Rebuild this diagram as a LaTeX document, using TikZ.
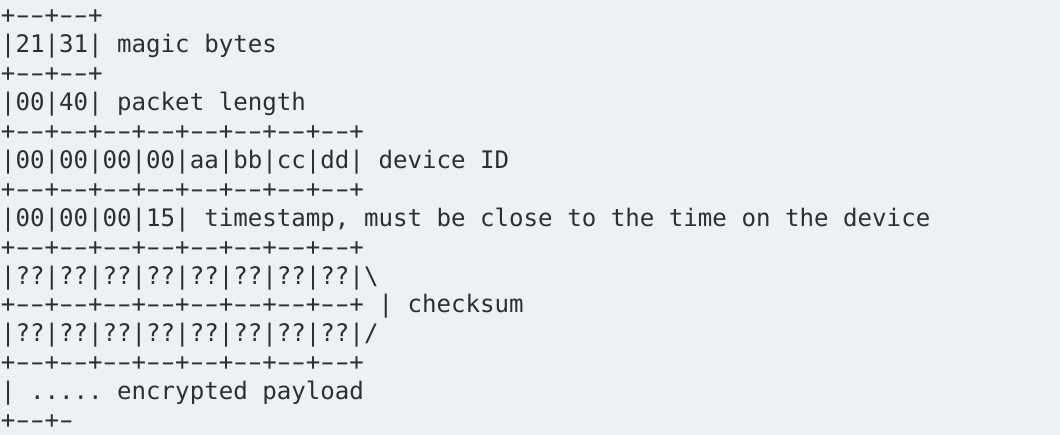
\documentclass[tikz,border=0pt]{standalone}
\usepackage{fontspec}
\setmonofont{DejaVu Sans Mono}
\usepackage{xcolor}
\usepackage{graphicx}
\usetikzlibrary{positioning}
\definecolor{pagebg}{HTML}{EFF0F3}
\definecolor{ink}{HTML}{2F2F2F}
\newcommand{\asciifont}{\fontsize{24.12pt}{28.93pt}\selectfont\ttfamily}
\newcommand{\bsl}{\textbackslash}
% wide hyphen, as in the rendered code block
\newcommand{\hy}{\makebox[0.602em][c]{\scalebox{1.65}[1]{-}}}
\newcommand{\cellrule}{\hy\hy+}

\begin{document}
\begin{tikzpicture}[x=1pt,y=1pt,
  asciirow/.style={anchor=north west,inner sep=0pt,outer sep=0pt,text height=23.2pt,text depth=5.73pt,
                   font=\asciifont,text=ink}]
  \fill[pagebg] (0,0) rectangle (1060,-435);
  \useasboundingbox (0,0) rectangle (1060,-435);
  \node[asciirow] (r1) at (1,-0.5) {+\cellrule\cellrule};
  \node[below=0pt of r1.south west,asciirow] (r2) {|21|31| magic bytes};
  \node[below=0pt of r2.south west,asciirow] (r3) {+\cellrule\cellrule};
  \node[below=0pt of r3.south west,asciirow] (r4) {|00|40| packet length};
  \node[below=0pt of r4.south west,asciirow] (r5) {+\cellrule\cellrule\cellrule\cellrule\cellrule\cellrule\cellrule\cellrule};
  \node[below=0pt of r5.south west,asciirow] (r6) {|00|00|00|00|aa|bb|cc|dd| device ID};
  \node[below=0pt of r6.south west,asciirow] (r7) {+\cellrule\cellrule\cellrule\cellrule\cellrule\cellrule\cellrule\cellrule};
  \node[below=0pt of r7.south west,asciirow] (r8) {|00|00|00|15| timestamp, must be close to the time on the device};
  \node[below=0pt of r8.south west,asciirow] (r9) {+\cellrule\cellrule\cellrule\cellrule\cellrule\cellrule\cellrule\cellrule};
  \node[below=0pt of r9.south west,asciirow] (r10) {|??|??|??|??|??|??|??|??|\bsl};
  \node[below=0pt of r10.south west,asciirow] (r11) {+\cellrule\cellrule\cellrule\cellrule\cellrule\cellrule\cellrule\cellrule{} | checksum};
  \node[below=0pt of r11.south west,asciirow] (r12) {|??|??|??|??|??|??|??|??|/};
  \node[below=0pt of r12.south west,asciirow] (r13) {+\cellrule\cellrule\cellrule\cellrule\cellrule\cellrule\cellrule\cellrule};
  \node[below=0pt of r13.south west,asciirow] (r14) {| ..... encrypted payload};
  \node[below=0pt of r14.south west,asciirow] (r15) {+\hy\hy+\hy};
\end{tikzpicture}
\end{document}
